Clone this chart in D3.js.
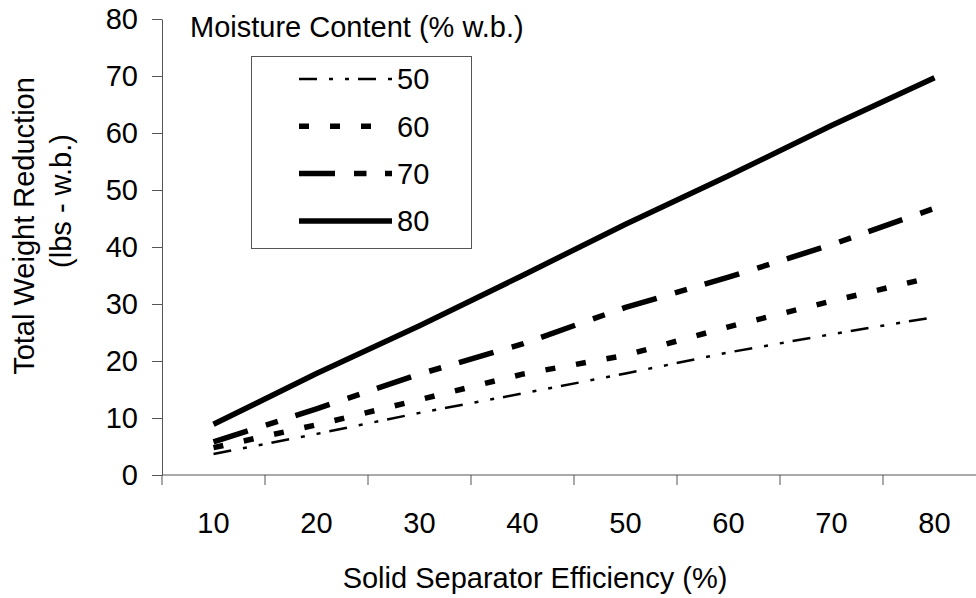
<!DOCTYPE html>
<html><head><meta charset="utf-8">
<script src="https://cdn.jsdelivr.net/npm/d3@7"></script>
<style>body{margin:0;background:#fff}svg{display:block}text{font-family:"Liberation Sans",Arial,sans-serif;fill:#000}</style>
</head><body><svg id="c" width="976" height="598"></svg>
<script>
const categories = [10, 20, 30, 40, 50, 60, 70, 80];
const mc50 = [3.7, 7.2, 10.9, 14.3, 17.8, 21.5, 24.7, 27.7];
const mc60 = [4.8, 8.8, 13.2, 17.7, 21.0, 26.0, 30.5, 34.8];
const mc70 = [5.8, 11.6, 17.7, 23.0, 29.4, 34.7, 40.4, 46.8];
const mc80 = [8.9, 17.8, 26.2, 35.0, 44.0, 52.5, 61.3, 69.7];
const seriesNames = ["50", "60", "70", "80"];
const yTicks = [0, 10, 20, 30, 40, 50, 60, 70, 80];

const styles = [
  {w: 2.5, dash: "18,12,4,12,4,9"},
  {w: 5.5, dash: "10,21"},
  {w: 5.5, dash: "36,19,12.5,18.5"},
  {w: 5.5, dash: null}
];
const series = [mc50, mc60, mc70, mc80].map((v, i) => ({name: seriesNames[i], values: v, style: styles[i]}));

const svg = d3.select("#c");
const fs = 29;
const x = d3.scaleBand().domain(categories).range([162, 986]).padding(0);
const y = d3.scaleLinear().domain([0, 80]).range([475, 19]);
const axisColor = "#555";

// y axis
const gy = svg.append("g").attr("transform", "translate(162,0)")
  .call(d3.axisLeft(y).tickValues(yTicks).tickSize(10).tickPadding(14).tickSizeOuter(0));
gy.select(".domain").attr("stroke", axisColor);
gy.selectAll(".tick line").attr("stroke", axisColor);
gy.selectAll(".tick text").attr("font-size", fs).attr("font-family", "Liberation Sans, Arial, sans-serif").attr("fill", "#000");

// x axis with ticks between categories
const gx = svg.append("g").attr("transform", "translate(0,475)");
gx.append("line").attr("x1", 162).attr("x2", 986).attr("y1", 0).attr("y2", 0).attr("stroke", axisColor);
const bounds = categories.map(c => x(c)).concat([x(categories[categories.length - 1]) + x.bandwidth()]);
gx.selectAll("line.tk").data(bounds).join("line").attr("class", "tk")
  .attr("x1", d => d).attr("x2", d => d).attr("y1", 0).attr("y2", 10).attr("stroke", axisColor);
gx.selectAll("text").data(categories).join("text")
  .attr("x", d => x(d) + x.bandwidth() / 2).attr("y", 58)
  .attr("text-anchor", "middle").attr("font-size", fs).text(d => d);

// axis titles
svg.append("text").attr("x", 535).attr("y", 588).attr("text-anchor", "middle").attr("font-size", fs)
  .text("Solid Separator Efficiency (%)");
svg.append("text").attr("transform", "translate(34,226) rotate(-90)").attr("text-anchor", "middle").attr("font-size", fs)
  .text("Total Weight Reduction");
svg.append("text").attr("transform", "translate(71,201) rotate(-90)").attr("text-anchor", "middle").attr("font-size", fs)
  .text("(lbs - w.b.)");

// lines
const line = d3.line().x((d, i) => x(categories[i]) + x.bandwidth() / 2).y(d => y(d));
svg.append("g").selectAll("path").data(series).join("path")
  .attr("d", d => line(d.values)).attr("fill", "none").attr("stroke", "#000")
  .attr("stroke-width", d => d.style.w).attr("stroke-dasharray", d => d.style.dash)
  .attr("stroke-linejoin", "round");

// legend
svg.append("text").attr("x", 190).attr("y", 37).attr("font-size", fs).text("Moisture Content (% w.b.)");
svg.append("rect").attr("x", 251.5).attr("y", 56.5).attr("width", 220).attr("height", 192)
  .attr("fill", "#fff").attr("stroke", axisColor);
const lg = svg.append("g").selectAll("g").data(series).join("g")
  .attr("transform", (d, i) => `translate(0,${79 + i * 47.3})`);
lg.append("line").attr("x1", 299).attr("x2", 392).attr("y1", 0).attr("y2", 0)
  .attr("stroke", "#000").attr("stroke-width", d => d.style.w).attr("stroke-dasharray", d => d.style.dash);
lg.append("text").attr("x", 397).attr("y", 0).attr("dy", "0.36em").attr("font-size", fs).text(d => d.name);
</script></body></html>
